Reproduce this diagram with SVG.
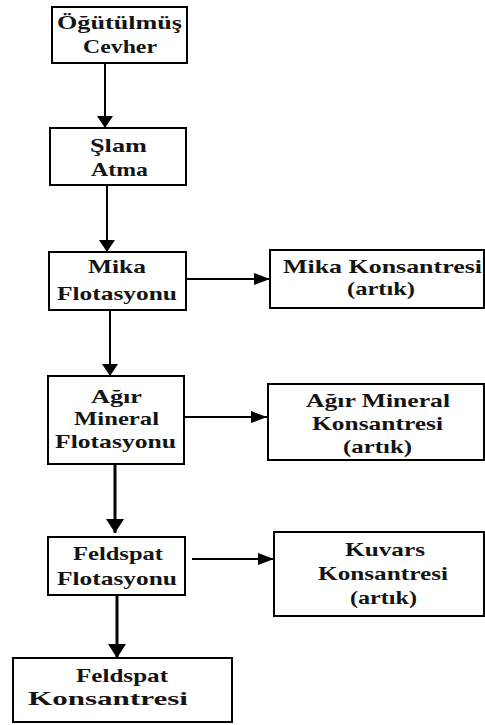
<svg xmlns="http://www.w3.org/2000/svg" width="485" height="725" viewBox="0 0 485 725">
<defs>
<style>
.box{fill:#fff;stroke:#000;stroke-width:2}
.t{font-family:'Liberation Serif',Tinos,'Times New Roman','DejaVu Serif',serif;font-weight:700;font-size:19px;fill:#141414;text-anchor:middle}
.c{stroke:#000;stroke-width:2;fill:none}
.c3{stroke:#000;stroke-width:3;fill:none}
</style>
<marker id="av" viewBox="0 0 12 16" refX="12" refY="8" markerWidth="6" markerHeight="8" markerUnits="strokeWidth" orient="auto">
<path d="M0,0 L12,8 L0,16 Z" fill="#000"/>
</marker>
<marker id="ah" viewBox="0 0 16 12" refX="16" refY="6" markerWidth="8" markerHeight="6" markerUnits="strokeWidth" orient="auto">
<path d="M0,0 L16,6 L0,12 Z" fill="#000"/>
</marker>
<marker id="av3" viewBox="0 0 14 18" refX="14" refY="9" markerWidth="4.667" markerHeight="6" markerUnits="strokeWidth" orient="auto">
<path d="M0,0 L14,9 L0,18 Z" fill="#000"/>
</marker>
</defs>
<g id="connectors">
<line class="c" x1="105" y1="64" x2="105" y2="128" marker-end="url(#av)"/>
<line class="c" x1="107" y1="185" x2="107" y2="252" marker-end="url(#av)"/>
<line class="c" x1="186" y1="279" x2="270" y2="279" marker-end="url(#ah)"/>
<line class="c" x1="110" y1="310" x2="110" y2="376" marker-end="url(#av)"/>
<line class="c" x1="184" y1="417" x2="267" y2="417" marker-end="url(#ah)"/>
<line class="c3" x1="115" y1="464" x2="115" y2="533" marker-end="url(#av3)"/>
<line class="c" x1="192" y1="559" x2="274" y2="559" marker-end="url(#ah)"/>
<line class="c3" x1="117" y1="595" x2="117" y2="658" marker-end="url(#av3)"/>
</g>
<g id="n1">
<rect class="box" x="52" y="7" width="135" height="56"/>
<text class="t" x="119.5" y="29" textLength="125" lengthAdjust="spacingAndGlyphs">Öğütülmüş</text>
<text class="t" x="120" y="53" textLength="74" lengthAdjust="spacingAndGlyphs">Cevher</text>
</g>
<g id="n2">
<rect class="box" x="50" y="128" width="136" height="57"/>
<text class="t" x="118.5" y="152" textLength="57" lengthAdjust="spacingAndGlyphs">Şlam</text>
<text class="t" x="119.5" y="176" textLength="57" lengthAdjust="spacingAndGlyphs">Atma</text>
</g>
<g id="n3">
<rect class="box" x="49" y="252" width="137" height="58"/>
<text class="t" x="117" y="273" textLength="58" lengthAdjust="spacingAndGlyphs">Mika</text>
<text class="t" x="117" y="300" textLength="120" lengthAdjust="spacingAndGlyphs">Flotasyonu</text>
</g>
<g id="n4">
<rect class="box" x="270" y="250" width="214" height="58"/>
<text class="t" x="382.5" y="273" textLength="199" lengthAdjust="spacingAndGlyphs">Mika Konsantresi</text>
<text class="t" x="381" y="295" textLength="68" lengthAdjust="spacingAndGlyphs">(artık)</text>
</g>
<g id="n5">
<rect class="box" x="48" y="376" width="136" height="88"/>
<text class="t" x="116.5" y="403" textLength="51" lengthAdjust="spacingAndGlyphs">Ağır</text>
<text class="t" x="116.5" y="425" textLength="85" lengthAdjust="spacingAndGlyphs">Mineral</text>
<text class="t" x="115.5" y="448" textLength="121" lengthAdjust="spacingAndGlyphs">Flotasyonu</text>
</g>
<g id="n6">
<rect class="box" x="268" y="384" width="216" height="76"/>
<text class="t" x="378" y="407" textLength="144" lengthAdjust="spacingAndGlyphs">Ağır Mineral</text>
<text class="t" x="377.5" y="430" textLength="131" lengthAdjust="spacingAndGlyphs">Konsantresi</text>
<text class="t" x="377.5" y="453" textLength="69" lengthAdjust="spacingAndGlyphs">(artık)</text>
</g>
<g id="n7">
<rect class="box" x="48" y="537" width="137" height="58"/>
<text class="t" x="118" y="560" textLength="90" lengthAdjust="spacingAndGlyphs">Feldspat</text>
<text class="t" x="117" y="585" textLength="120" lengthAdjust="spacingAndGlyphs">Flotasyonu</text>
</g>
<g id="n8">
<rect class="box" x="274" y="532" width="210" height="84"/>
<text class="t" x="385" y="556" textLength="80" lengthAdjust="spacingAndGlyphs">Kuvars</text>
<text class="t" x="383" y="580" textLength="130" lengthAdjust="spacingAndGlyphs">Konsantresi</text>
<text class="t" x="383.5" y="604" textLength="67" lengthAdjust="spacingAndGlyphs">(artık)</text>
</g>
<g id="n9">
<rect class="box" x="13" y="658" width="219" height="64"/>
<text class="t" x="122" y="682" textLength="92" lengthAdjust="spacingAndGlyphs">Feldspat</text>
<text class="t" x="108" y="705" textLength="160" lengthAdjust="spacingAndGlyphs">Konsantresi</text>
</g>
</svg>
